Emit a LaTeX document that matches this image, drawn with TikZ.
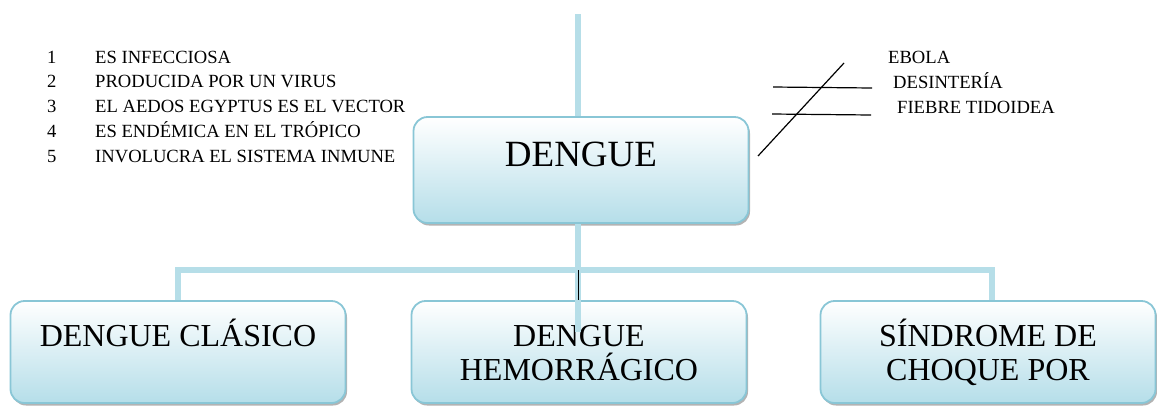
\documentclass[tikz,border=0pt]{standalone}
\usepackage{fontspec}
\setmainfont{Liberation Serif}
\newfontfamily\dengueserif{Liberation Serif}
\usepackage{tikz}
\usetikzlibrary{positioning,calc,shadows}
\definecolor{dengueedge}{RGB}{137,198,214}
\definecolor{denguefill}{RGB}{181,222,233}
\definecolor{dengueline}{RGB}{182,222,232}
\tikzset{
    topic/.style={rectangle, rounded corners=14pt, draw=dengueedge, line width=1.8pt, top color=white, middle color=white!70!denguefill, bottom color=denguefill, minimum width=335pt, minimum height=102pt, drop shadow={shadow xshift=1.5pt, shadow yshift=-2.5pt, fill=black!50, opacity=0.6}},
    topicM/.style={topic, minimum height=106pt},
    boxtext/.style={font=\dengueserif\fontsize{32}{34}\selectfont, align=center, inner sep=0pt},
    maintext/.style={font=\dengueserif\fontsize{37}{40}\selectfont, inner sep=0pt},
    item/.style={font=\dengueserif\fontsize{18.6}{22}\selectfont, inner sep=0pt},
    conn/.style={line width=6pt, dengueline},
    tick/.style={line width=1pt, black},
    strike/.style={line width=1.2pt, black},
}
\begin{document}
\begin{tikzpicture}[x=1pt, y=-1pt]
    \useasboundingbox (0,0) rectangle (1157,408);
    % Main box
    \node[topicM] (dengue) at (581,170) {};
    \node[maintext, anchor=base] (dengueTxt) at ([yshift=-50pt]dengue.north) {DENGUE};
    % Forms of the disease
    \node[topic] (clasico) at (178,352) {};
    \node[topic] (hemo) at (579,352) {};
    \node[topic] (sindrome) at (988,352) {};
    \node[boxtext, anchor=base] (clasicoTxt) at ([yshift=-46pt]clasico.north) {DENGUE CLÁSICO};
    \node[boxtext, anchor=base] (hemoTxt) at ([yshift=-80pt]hemo.north) {DENGUE\\HEMORRÁGICO};
    \node[boxtext, anchor=base] (sindromeTxt) at ([yshift=-80pt]sindrome.north) {SÍNDROME DE\\CHOQUE POR};
    % Connectors
    \coordinate (topend) at (578,14);
    \coordinate (bus) at (578,270);
    \draw[conn] (topend) -- (topend |- dengue.north);
    \draw[conn] (bus |- dengue.south) -- (bus);
    \draw[conn] (clasico.north) |- (bus) -| ([xshift=4pt]sindrome.north);
    \draw[conn] (bus) -- ($(bus |- hemo.north)+(0,32)$);
    \draw[tick] (bus) -- (bus |- hemo.north);
    % Features list
    \foreach \i/\txt in {1/ES INFECCIOSA, 2/PRODUCIDA POR UN VIRUS, 3/EL AEDOS EGYPTUS ES EL VECTOR, 4/ES ENDÉMICA EN EL TRÓPICO, 5/INVOLUCRA EL SISTEMA INMUNE} {
        \node[item, anchor=base west] (num\i) at (47, {38.25+24.75*\i}) {\i};
        \node[item, anchor=base west] (feat\i) at (95, {38.25+24.75*\i}) {\txt};
    }
    % Not dengue
    \node[item, anchor=base west] (ebola) at (888,63) {EBOLA};
    \node[item, anchor=base west] (desinteria) at (893,88) {DESINTERÍA};
    \node[item, anchor=base west] (fiebre) at (897,113) {FIEBRE TIDOIDEA};
    \coordinate (s1) at (758,156);
    \coordinate (s2) at (844,63);
    \draw[strike] (s1) -- (s2);
    \draw[strike] (773,87) -- (872,88);
    \draw[strike] (772,114) -- (871,115);
\end{tikzpicture}
\end{document}
